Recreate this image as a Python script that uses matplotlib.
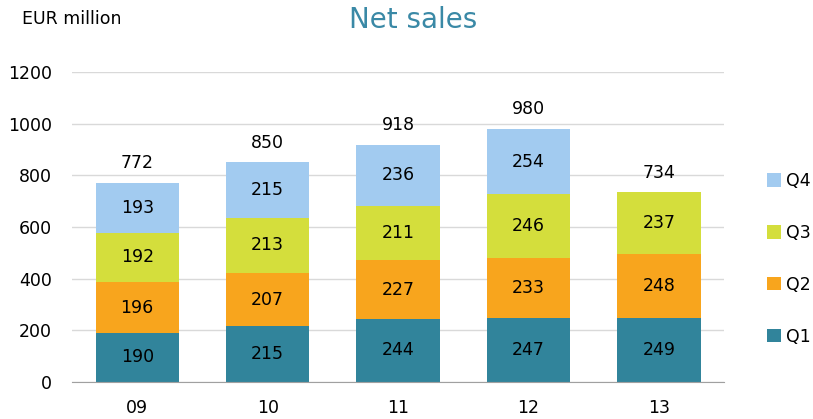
import numpy as np
import matplotlib.pyplot as plt

years = ['09', '10', '11', '12', '13']
q1 = [190, 215, 244, 247, 249]
q2 = [196, 207, 227, 233, 248]
q3 = [192, 213, 211, 246, 237]
q4 = [193, 215, 236, 254, 0]
totals = [772, 850, 918, 980, 734]

quarters = ['Q1', 'Q2', 'Q3', 'Q4']
colors = ['#31849B', '#F8A51D', '#D4DE3C', '#A2CBF0']

fig = plt.figure(figsize=(8.13, 4.19), dpi=100)
ax = fig.add_axes([0.0886, 0.0883, 0.802, 0.74])

x = np.arange(len(years))
bottom = np.zeros(len(years))
handles = []
for vals, name, c in zip([q1, q2, q3, q4], quarters, colors):
    vals = np.array(vals)
    b = ax.bar(x, vals, 0.64, bottom=bottom, color=c, label=name, zorder=3)
    handles.append(b)
    for i, v in enumerate(vals):
        if v > 0:
            ax.text(x[i], bottom[i] + v / 2, str(v), ha='center', va='center',
                    fontsize=12.5, zorder=4)
    bottom += vals

for i, t in enumerate(totals):
    ax.text(x[i], t + 75, str(t), ha='center', va='center', fontsize=12.5)

ax.set_xlim(-0.5, 4.5)
ax.set_ylim(0, 1200)
ax.set_yticks(range(0, 1201, 200))
ax.set_xticks(x)
ax.set_xticklabels(years, fontsize=12.5)
ax.tick_params(axis='y', labelsize=12.5, length=0, pad=14.5)
ax.tick_params(axis='x', length=0, pad=12)
ax.yaxis.grid(True, color='#D9D9D9', linewidth=1, zorder=0)
for s in ['top', 'right', 'left']:
    ax.spines[s].set_visible(False)
ax.spines['bottom'].set_color('#A0A0A0')
ax.spines['bottom'].set_zorder(5)

fig.text(0.508, 0.952, 'Net sales', ha='center', va='center', fontsize=20,
         color='#3A89A6')
fig.text(0.027, 0.955, 'EUR million', ha='left', va='center', fontsize=12.5)

leg = fig.legend(handles[::-1], quarters[::-1], loc='center left',
                 bbox_to_anchor=(0.943, 0.382), frameon=False, fontsize=12.5,
                 handlelength=0.8, handleheight=0.8, handletextpad=0.3,
                 labelspacing=1.95, borderpad=0, borderaxespad=0)

fig.savefig('out.png', dpi=100)
